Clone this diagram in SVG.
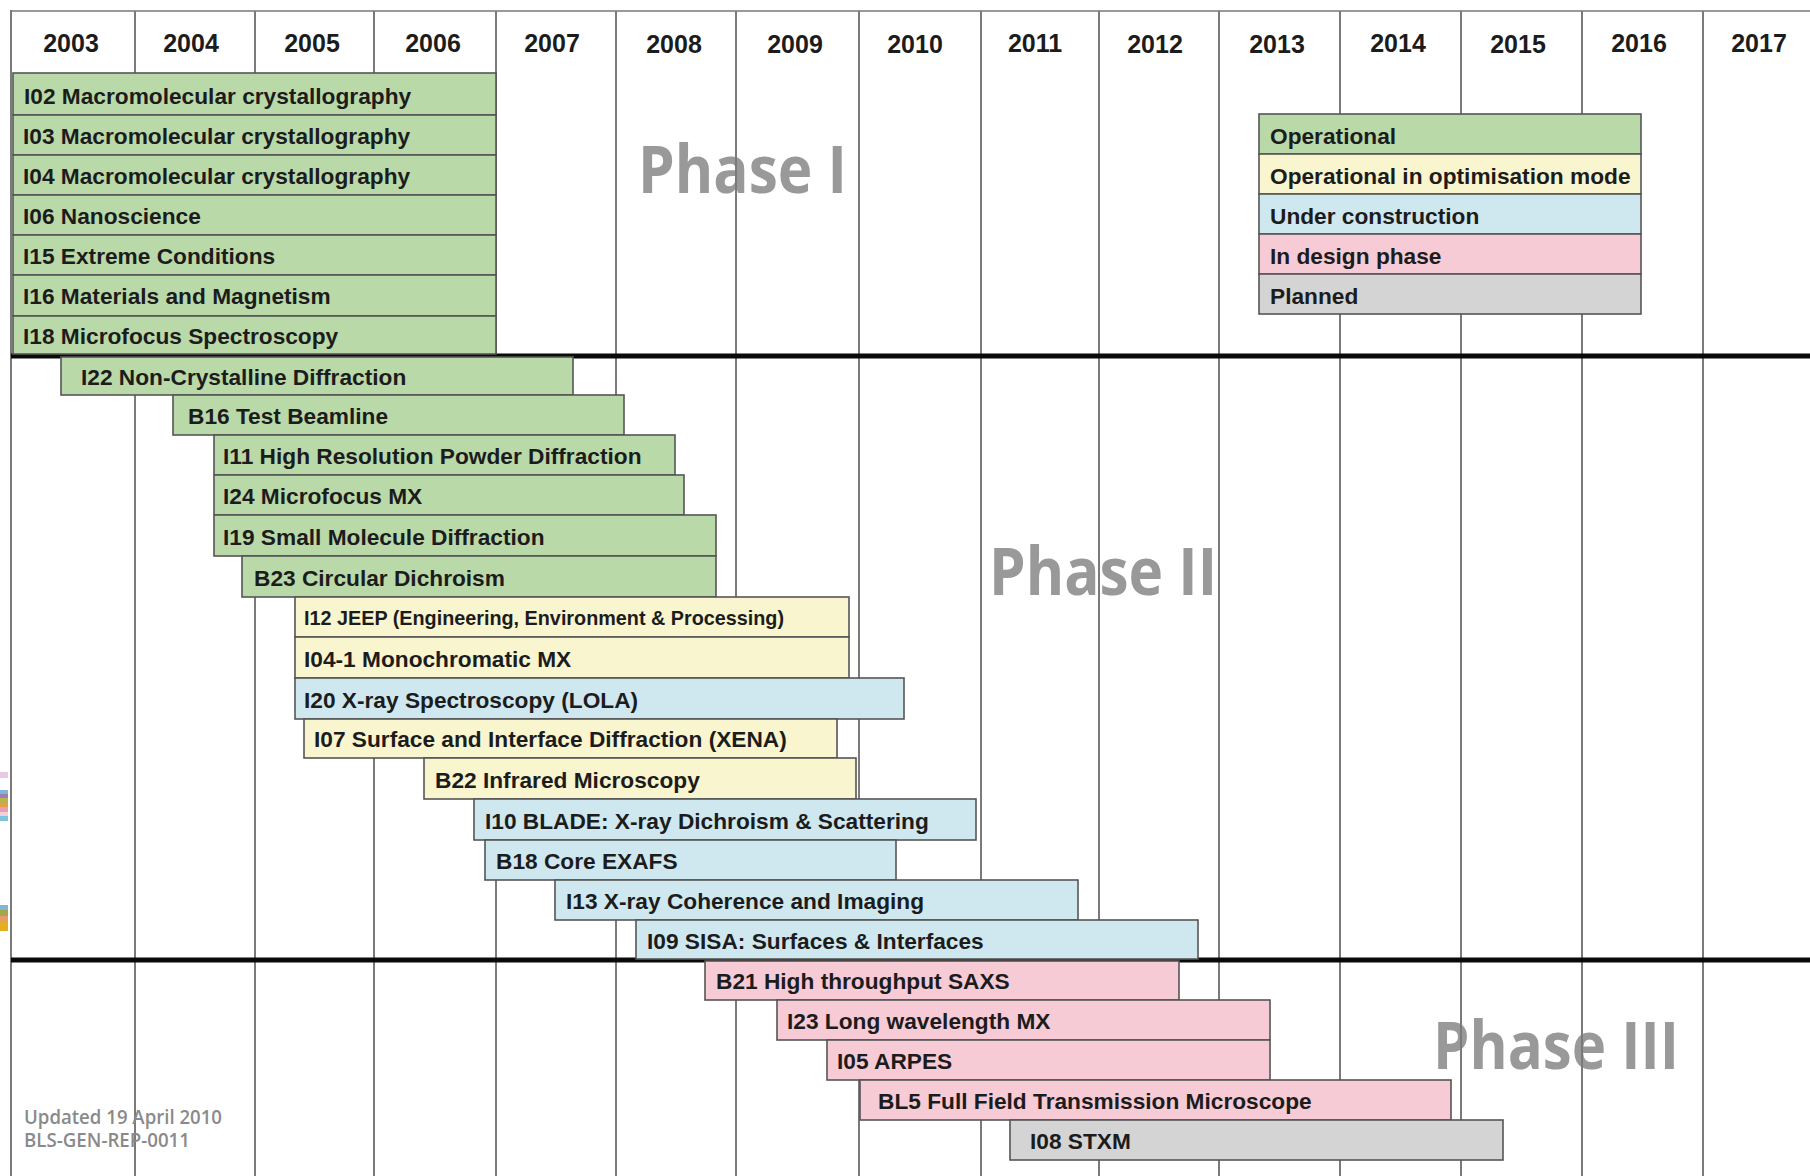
<svg xmlns="http://www.w3.org/2000/svg" width="1810" height="1176" viewBox="0 0 1810 1176">
<style>
.grid{stroke:#7a7a7a;stroke-width:2;fill:none}
.thick{stroke:#0a0a0a;stroke-width:5}
.yr{font-family:"Liberation Sans",Arial,sans-serif;font-weight:bold;font-size:25px;fill:#1c1c1c;text-anchor:middle}
.bar rect{stroke:#555;stroke-width:1.6}
.lbl{font-family:"Liberation Sans",Arial,sans-serif;font-weight:bold;font-size:22.7px;fill:#1c1c1c}
.sm{font-size:19.8px}
.op{fill:#bad9a9}
.opt{fill:#f9f5cf}
.uc{fill:#cfe8f0}
.des{fill:#f6cbd6}
.pl{fill:#d4d4d4}
.phase{font-family:"Open Sans","Liberation Sans",sans-serif;font-weight:bold;font-size:67px;fill:#999}
.foot{font-family:"Open Sans","Liberation Sans",sans-serif;font-weight:600;font-size:19px;fill:#8a8a8a}
</style>
<rect width="1810" height="1176" fill="#fff"/>
<g id="artifacts">
<rect x="0" y="772" width="8" height="6" fill="#e7c9e6"/>
<rect x="0" y="790" width="8" height="4" fill="#7fb6d8"/>
<rect x="0" y="794" width="8" height="4" fill="#9a7fb6"/>
<rect x="0" y="798" width="8" height="5" fill="#b8b34a"/>
<rect x="0" y="803" width="8" height="4" fill="#e6a040"/>
<rect x="0" y="807" width="8" height="5" fill="#e79cc0"/>
<rect x="0" y="812" width="8" height="4" fill="#f1d0d8"/>
<rect x="0" y="816" width="8" height="5" fill="#7fc2e0"/>
<rect x="0" y="905" width="8" height="5" fill="#7fb6d8"/>
<rect x="0" y="910" width="8" height="6" fill="#a3a64a"/>
<rect x="0" y="916" width="8" height="6" fill="#e79a6a"/>
<rect x="0" y="922" width="8" height="9" fill="#e0b020"/>
</g>
<g id="phase-labels">
<text class="phase" x="638" y="193" textLength="209" lengthAdjust="spacingAndGlyphs">Phase I</text>
<text class="phase" x="989" y="595" textLength="228" lengthAdjust="spacingAndGlyphs">Phase II</text>
<text class="phase" x="1433" y="1069" textLength="246" lengthAdjust="spacingAndGlyphs">Phase III</text>
</g>
<g id="grid">
<line class="grid" x1="10" y1="11" x2="1810" y2="11" stroke-width="3" style="stroke:#9a9a9a"/>
<line class="grid" x1="11" y1="10" x2="11" y2="1176" stroke-width="3"/>
<line class="grid" x1="135" y1="11" x2="135" y2="1176"/>
<line class="grid" x1="255" y1="11" x2="255" y2="1176"/>
<line class="grid" x1="374" y1="11" x2="374" y2="1176"/>
<line class="grid" x1="496" y1="11" x2="496" y2="1176"/>
<line class="grid" x1="616" y1="11" x2="616" y2="1176"/>
<line class="grid" x1="736" y1="11" x2="736" y2="1176"/>
<line class="grid" x1="859" y1="11" x2="859" y2="1176"/>
<line class="grid" x1="981" y1="11" x2="981" y2="1176"/>
<line class="grid" x1="1099" y1="11" x2="1099" y2="1176"/>
<line class="grid" x1="1219" y1="11" x2="1219" y2="1176"/>
<line class="grid" x1="1340" y1="11" x2="1340" y2="1176"/>
<line class="grid" x1="1461" y1="11" x2="1461" y2="1176"/>
<line class="grid" x1="1582" y1="11" x2="1582" y2="1176"/>
<line class="grid" x1="1703" y1="11" x2="1703" y2="1176"/>
<line class="thick" x1="11" y1="356" x2="1810" y2="356"/>
<line class="thick" x1="11" y1="960" x2="1810" y2="960"/>
</g>
<g id="years">
<text class="yr" x="71" y="52">2003</text>
<text class="yr" x="191" y="52">2004</text>
<text class="yr" x="312" y="52">2005</text>
<text class="yr" x="433" y="52">2006</text>
<text class="yr" x="552" y="52">2007</text>
<text class="yr" x="674" y="53">2008</text>
<text class="yr" x="795" y="53">2009</text>
<text class="yr" x="915" y="53">2010</text>
<text class="yr" x="1035" y="52">2011</text>
<text class="yr" x="1155" y="53">2012</text>
<text class="yr" x="1277" y="53">2013</text>
<text class="yr" x="1398" y="52">2014</text>
<text class="yr" x="1518" y="53">2015</text>
<text class="yr" x="1639" y="52">2016</text>
<text class="yr" x="1759" y="52">2017</text>
</g>
<g id="phase1" class="bar">
<g id="i02"><rect class="op" x="13" y="73" width="483" height="42"/><text class="lbl" x="24" y="104">I02 Macromolecular crystallography</text></g>
<g id="i03"><rect class="op" x="13" y="115" width="483" height="40"/><text class="lbl" x="23" y="144">I03 Macromolecular crystallography</text></g>
<g id="i04"><rect class="op" x="13" y="155" width="483" height="40"/><text class="lbl" x="23" y="184">I04 Macromolecular crystallography</text></g>
<g id="i06"><rect class="op" x="13" y="195" width="483" height="40"/><text class="lbl" x="23" y="224">I06 Nanoscience</text></g>
<g id="i15"><rect class="op" x="13" y="235" width="483" height="40"/><text class="lbl" x="23" y="264">I15 Extreme Conditions</text></g>
<g id="i16"><rect class="op" x="13" y="275" width="483" height="41"/><text class="lbl" x="23" y="304">I16 Materials and Magnetism</text></g>
<g id="i18"><rect class="op" x="13" y="316" width="483" height="38"/><text class="lbl" x="23" y="344">I18 Microfocus Spectroscopy</text></g>
</g>
<g id="phase2" class="bar">
<g id="i22"><rect class="op" x="61" y="357" width="512" height="38"/><text class="lbl" x="81" y="385">I22 Non-Crystalline Diffraction</text></g>
<g id="b16"><rect class="op" x="173" y="395" width="451" height="40"/><text class="lbl" x="188" y="424">B16 Test Beamline</text></g>
<g id="i11"><rect class="op" x="214" y="435" width="461" height="40"/><text class="lbl" x="223" y="464">I11 High Resolution Powder Diffraction</text></g>
<g id="i24"><rect class="op" x="214" y="475" width="470" height="40"/><text class="lbl" x="223" y="504">I24 Microfocus MX</text></g>
<g id="i19"><rect class="op" x="214" y="515" width="502" height="41"/><text class="lbl" x="223" y="545">I19 Small Molecule Diffraction</text></g>
<g id="b23"><rect class="op" x="242" y="556" width="474" height="41"/><text class="lbl" x="254" y="586">B23 Circular Dichroism</text></g>
<g id="i12"><rect class="opt" x="295" y="597" width="554" height="40"/><text class="lbl sm" x="304" y="625">I12 JEEP (Engineering, Environment &amp; Processing)</text></g>
<g id="i04-1"><rect class="opt" x="295" y="637" width="554" height="41"/><text class="lbl" x="304" y="667">I04-1 Monochromatic MX</text></g>
<g id="i20"><rect class="uc" x="295" y="678" width="609" height="41"/><text class="lbl" x="304" y="708">I20 X-ray Spectroscopy (LOLA)</text></g>
<g id="i07"><rect class="opt" x="304" y="719" width="533" height="39"/><text class="lbl" x="314" y="747">I07 Surface and Interface Diffraction (XENA)</text></g>
<g id="b22"><rect class="opt" x="424" y="758" width="432" height="41"/><text class="lbl" x="435" y="788">B22 Infrared Microscopy</text></g>
<g id="i10"><rect class="uc" x="474" y="799" width="502" height="41"/><text class="lbl" x="485" y="829">I10 BLADE: X-ray Dichroism &amp; Scattering</text></g>
<g id="b18"><rect class="uc" x="485" y="840" width="411" height="40"/><text class="lbl" x="496" y="869">B18 Core EXAFS</text></g>
<g id="i13"><rect class="uc" x="555" y="880" width="523" height="40"/><text class="lbl" x="566" y="909">I13 X-ray Coherence and Imaging</text></g>
<g id="i09"><rect class="uc" x="636" y="920" width="562" height="39"/><text class="lbl" x="647" y="949">I09 SISA: Surfaces &amp; Interfaces</text></g>
</g>
<g id="phase3" class="bar">
<g id="b21"><rect class="des" x="705" y="961" width="474" height="39"/><text class="lbl" x="716" y="989">B21 High throughput SAXS</text></g>
<g id="i23"><rect class="des" x="777" y="1000" width="493" height="40"/><text class="lbl" x="787" y="1029">I23 Long wavelength MX</text></g>
<g id="i05"><rect class="des" x="827" y="1040" width="443" height="40"/><text class="lbl" x="837" y="1069">I05 ARPES</text></g>
<g id="bl5"><rect class="des" x="860" y="1080" width="591" height="40"/><text class="lbl" x="878" y="1109">BL5 Full Field Transmission Microscope</text></g>
<g id="i08"><rect class="pl" x="1010" y="1120" width="493" height="40"/><text class="lbl" x="1030" y="1149">I08 STXM</text></g>
</g>
<g id="legend" class="bar">
<g id="leg-op"><rect class="op" x="1259" y="114" width="382" height="40"/><text class="lbl" x="1270" y="144">Operational</text></g>
<g id="leg-opt"><rect class="opt" x="1259" y="154" width="382" height="40"/><text class="lbl" x="1270" y="184">Operational in optimisation mode</text></g>
<g id="leg-uc"><rect class="uc" x="1259" y="194" width="382" height="40"/><text class="lbl" x="1270" y="224">Under construction</text></g>
<g id="leg-des"><rect class="des" x="1259" y="234" width="382" height="40"/><text class="lbl" x="1270" y="264">In design phase</text></g>
<g id="leg-pl"><rect class="pl" x="1259" y="274" width="382" height="40"/><text class="lbl" x="1270" y="304">Planned</text></g>
</g>
<g id="footer">
<text class="foot" x="24" y="1124" textLength="198" lengthAdjust="spacingAndGlyphs">Updated 19 April 2010</text>
<text class="foot" x="24" y="1147" textLength="166" lengthAdjust="spacingAndGlyphs">BLS-GEN-REP-0011</text>
</g>
</svg>
